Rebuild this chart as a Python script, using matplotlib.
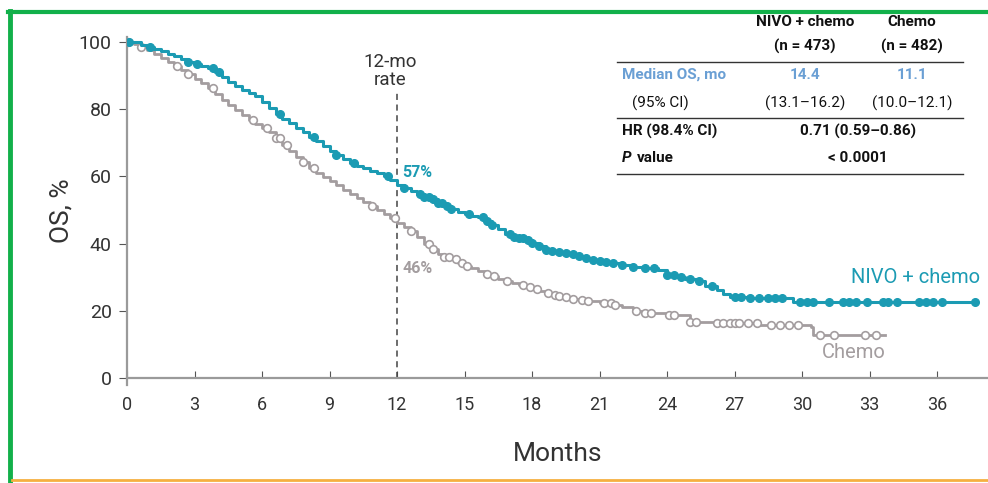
import numpy as np
import matplotlib
matplotlib.use("Agg")
import matplotlib.pyplot as plt
from matplotlib.lines import Line2D

plt.rcParams['font.family'] = ['Roboto', 'DejaVu Sans']

# KM step readings (months, OS %)
nivo_t = [0, 0.3, 0.6, 0.9, 1.2, 1.5, 1.8, 2.1, 2.4, 2.7, 3.0, 3.3, 3.6, 3.9, 4.2, 4.5,
          4.8, 5.1, 5.4, 5.7, 6.0, 6.3, 6.6, 6.9, 7.2, 7.5, 7.8, 8.1, 8.4, 8.7, 9.0, 9.3,
          9.6, 9.9, 10.2, 10.5, 10.8, 11.1, 11.4, 11.7, 12.0, 12.3, 12.6, 12.9, 13.2,
          13.5, 13.8, 14.1, 14.4, 14.7, 15.0, 15.3, 15.6, 15.9, 16.2, 16.5, 16.8, 17.1,
          17.4, 17.7, 18.0, 18.3, 18.6, 18.9, 19.2, 19.5, 19.8, 20.1, 20.4, 20.7, 21.0,
          21.3, 21.6, 22.0, 22.5, 23.0, 23.6, 24.0, 24.4, 24.8, 25.3, 25.7, 26.2, 26.5,
          26.8, 27.7, 29.6, 37.7]
nivo_s = [100, 100, 99.2, 98.6, 97.8, 97.2, 96.5, 95.8, 95, 94.2, 93.5, 93, 92.2, 91,
          89.5, 88.2, 87, 85.8, 84.8, 83.8, 82.3, 80.5, 78.5, 77, 75.8, 74.5, 73.2, 71.8,
          70.5, 69, 67.5, 66.4, 65.2, 64, 63.2, 62.4, 61.7, 61, 60.2, 59, 57.5, 56.6,
          55.8, 54.8, 54, 53.2, 52.2, 51.2, 50.2, 49.4, 48.8, 48.3, 47.8, 46.8, 45.5,
          44.3, 43, 42, 41.6, 41.2, 40.3, 39.2, 38.2, 37.8, 37.6, 37.3, 36.8, 36.2, 35.7,
          35.2, 34.8, 34.5, 34.2, 33.6, 33.0, 32.6, 32.1, 30.6, 30.0, 29.6, 28.8, 27.5,
          26.2, 25, 24.1, 23.8, 22.6, 22.6]

chemo_t = [0, 0.3, 0.6, 0.9, 1.2, 1.5, 1.8, 2.1, 2.4, 2.7, 3.0, 3.3, 3.6, 3.9, 4.2, 4.5,
           4.8, 5.1, 5.4, 5.7, 6.0, 6.3, 6.6, 6.9, 7.2, 7.5, 7.8, 8.1, 8.4, 8.7, 9.0, 9.3,
           9.6, 9.9, 10.2, 10.5, 10.8, 11.1, 11.4, 11.7, 12.0, 12.3, 12.6, 12.9, 13.2,
           13.5, 13.8, 14.1, 14.4, 14.7, 15.0, 15.3, 15.6, 15.9, 16.2, 16.5, 16.8, 17.1,
           17.4, 17.7, 18.0, 18.3, 18.6, 18.9, 19.2, 19.5, 19.8, 20.1, 20.5, 21.0, 21.6,
           22.0, 22.5, 22.9, 24.1, 25.0, 26.2, 28.1, 30.4, 30.5, 33.7]
chemo_s = [100, 99.5, 98.5, 97.5, 96.5, 95.3, 94.2, 93, 91.8, 90.4, 89, 87.8, 86.2, 84.5,
           82.8, 81.3, 79.8, 78.3, 76.8, 75.5, 74.5, 73.3, 71.4, 69.5, 67.5, 65.8, 64.2,
           62.5, 61, 59.8, 58.6, 57.3, 56, 54.8, 53.6, 52.5, 51.3, 50, 48.8, 47.7, 46.2,
           45, 43.8, 42, 40, 38.3, 37, 36, 35.3, 34.3, 33.3, 32.6, 31.8, 31, 30.3, 29.5,
           28.8, 28.3, 27.7, 27.2, 26.5, 25.8, 25.2, 24.8, 24.4, 24, 23.6, 23.2, 22.8,
           22.2, 21.7, 21, 20, 19.4, 18.8, 16.7, 16.4, 15.8, 15.2, 12.8, 12.8]

# censor times
nivo_cens = [0.1, 1.0, 2.7, 3.1, 3.8, 4.1, 6.8, 8.3, 9.3, 10.1, 11.6, 12.3, 13.0, 13.2, 13.4,
             13.6, 13.8, 14.0, 14.2, 14.4, 15.2, 15.8, 16.0, 16.2, 17.0, 17.2, 17.4, 17.6,
             17.8, 18.0, 18.3, 18.6, 18.9, 19.2, 19.5, 19.8, 20.1, 20.4, 20.7, 21.0, 21.3,
             21.6, 22.0, 22.5, 23.0, 23.4, 24.0, 24.3, 24.6, 25.0, 25.4, 26.0, 27.0, 27.3,
             27.7, 28.1, 28.5, 28.8, 29.1, 29.9, 30.2, 30.5, 31.2, 31.8, 32.1, 32.4, 32.9,
             33.6, 33.8, 34.2, 35.2, 35.5, 35.8, 36.2, 37.7]
chemo_cens = [0.05, 0.6, 2.2, 2.7, 3.8, 5.6, 6.2, 6.6, 6.8, 7.1, 7.8, 8.3, 10.9, 11.9, 12.6,
              13.4, 13.6, 14.1, 14.3, 14.6, 14.9, 15.1, 16.0, 16.3, 16.9, 17.6, 17.9, 18.2,
              18.7, 19.0, 19.2, 19.5, 19.8, 20.2, 20.5, 21.2, 21.5, 21.7, 22.6, 23.0, 23.3,
              24.1, 24.3, 25.0, 25.3, 26.2, 26.5, 26.8, 27.0, 27.2, 27.6, 28.0, 28.6, 29.0,
              29.4, 29.8, 30.8, 31.4, 32.8, 33.3]

x_ticks = [0, 3, 6, 9, 12, 15, 18, 21, 24, 27, 30, 33, 36]
y_ticks = [0, 20, 40, 60, 80, 100]

teal = '#1b9bb3'
grey = '#a39d9f'
axcol = '#9a9a9a'


def step_at(t, times, surv):
    idx = np.searchsorted(times, t, side='right') - 1
    return np.asarray(surv)[idx]


fig = plt.figure(figsize=(9.88, 4.83), dpi=100)
ax = fig.add_axes([127 / 988, 1 - 384.7 / 483, 861 / 988, (384.7 - 37) / 483])

ax.step(chemo_t, chemo_s, where='post', color=grey, lw=2, zorder=3)
ax.plot(chemo_cens, step_at(chemo_cens, chemo_t, chemo_s), 'o', ms=5.5, mfc='white',
        mec=grey, mew=1.2, zorder=4)
ax.step(nivo_t, nivo_s, where='post', color=teal, lw=2.2, zorder=5)
ax.plot(nivo_cens, step_at(nivo_cens, nivo_t, nivo_s), 'o', ms=5.5, color=teal, zorder=6)

ax.set_xlim(0, 861 / 22.5)
ax.set_ylim(-2, 101.5)
ax.spines['top'].set_visible(False)
ax.spines['right'].set_visible(False)
ax.spines['bottom'].set_position(('data', 0))
for s in ('left', 'bottom'):
    ax.spines[s].set_color(axcol)
    ax.spines[s].set_linewidth(1.6)
ax.set_xticks(x_ticks)
ax.set_yticks(y_ticks)
ax.tick_params(axis='x', direction='in', length=5, color='#555555', labelsize=13,
               labelcolor='#333333', pad=13)
ax.tick_params(axis='y', direction='out', length=6, color='#555555', labelsize=14,
               labelcolor='#333333', pad=5)
ax.set_xlabel('Months', fontsize=19, color='#333333', labelpad=20)
ax.set_ylabel('OS, %', fontsize=19, color='#333333', labelpad=4)

# 12-month marker
ax.plot([12, 12], [0, 85.5], ls=(0, (4, 3)), color='#444444', lw=1.1, zorder=2)
ax.text(11.7, 91.4, '12-mo\nrate', ha='center', va='center', fontsize=13.5,
        color='#333333', linespacing=1.0)
ax.text(12.25, 61.2, '57%', color=teal, fontsize=11.5, fontweight='bold', va='center')
ax.text(12.25, 32.5, '46%', color=grey, fontsize=11.5, fontweight='bold', va='center')

ax.text(37.9, 29.8, 'NIVO + chemo', color=teal, fontsize=14.5, ha='right', va='center')
ax.text(33.7, 7.7, 'Chemo', color=grey, fontsize=14.5, ha='right', va='center')

# summary table (figure pixel coordinates)
def px(x, y):
    return x / 988, 1 - y / 483

dark = '#111111'
blue = '#6a9fd4'
tk = dict(transform=fig.transFigure, fontsize=11, va='center')
fig.text(*px(805, 22), 'NIVO + chemo', ha='center', color=dark, fontweight='bold', **tk)
fig.text(*px(805, 46), '(n = 473)', ha='center', color=dark, fontweight='bold', **tk)
fig.text(*px(912, 22), 'Chemo', ha='center', color=dark, fontweight='bold', **tk)
fig.text(*px(912, 46), '(n = 482)', ha='center', color=dark, fontweight='bold', **tk)
fig.text(*px(622, 75), 'Median OS, mo', ha='left', color=blue, fontweight='bold', **tk)
fig.text(*px(805, 75), '14.4', ha='center', color=blue, fontweight='bold', **tk)
fig.text(*px(912, 75), '11.1', ha='center', color=blue, fontweight='bold', **tk)
fig.text(*px(660, 103), '(95% CI)', ha='center', color=dark, **tk)
fig.text(*px(805, 103), '(13.1\u201316.2)', ha='center', color=dark, **tk)
fig.text(*px(912, 103), '(10.0\u201312.1)', ha='center', color=dark, **tk)
fig.text(*px(622, 131), 'HR (98.4% CI)', ha='left', color=dark, fontweight='bold', **tk)
fig.text(*px(858, 131), '0.71 (0.59\u20130.86)', ha='center', color=dark, fontweight='bold', **tk)
fig.text(*px(622, 158), 'P', ha='left', color=dark, fontweight='bold', style='italic', **tk)
fig.text(*px(637, 158), 'value', ha='left', color=dark, fontweight='bold', **tk)
fig.text(*px(858, 158), '< 0.0001', ha='center', color=dark, fontweight='bold', **tk)
for yy in (62, 118, 174):
    fig.add_artist(Line2D([617 / 988, 963 / 988], [1 - yy / 483] * 2, color='#333333',
                          lw=1.0, transform=fig.transFigure))

# frame lines
fig.add_artist(Line2D([10 / 988, 10 / 988], [1 - 11 / 483, 0], color='#12b04a', lw=3.5,
                      transform=fig.transFigure))
fig.add_artist(Line2D([8 / 988, 1], [1 - 11.5 / 483] * 2, color='#12b04a', lw=3,
                      transform=fig.transFigure))
fig.add_artist(Line2D([12 / 988, 1], [1 - 480 / 483] * 2, color='#f5b041', lw=2,
                      transform=fig.transFigure))

fig.savefig('out.png', dpi=100)
